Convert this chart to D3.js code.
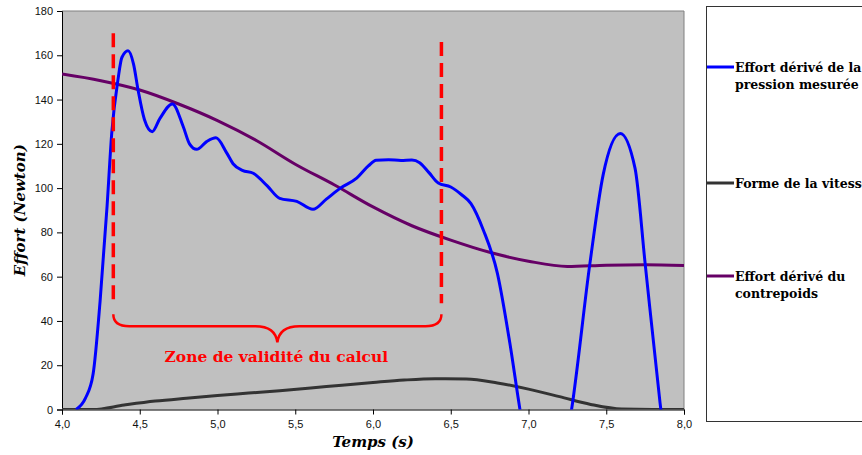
<!DOCTYPE html>
<html>
<head>
<meta charset="utf-8">
<script src="https://cdn.jsdelivr.net/npm/d3@7"></script>
<style>
  body { margin: 0; background: #fff; }
  svg { display: block; }
</style>
</head>
<body>
<div id="chart"></div>
<script>
// series data (time in s, effort in N)
const pressionT = [4.09, 4.15, 4.20, 4.245, 4.29, 4.32, 4.36, 4.385, 4.425, 4.46, 4.49, 4.53, 4.58, 4.63, 4.71, 4.78, 4.82, 4.866, 4.93, 4.99, 5.06, 5.10, 5.16, 5.23, 5.32, 5.40, 5.51, 5.614, 5.70, 5.79, 5.895, 5.97, 6.02, 6.10, 6.18, 6.25, 6.30, 6.36, 6.42, 6.50, 6.57, 6.63, 6.71, 6.80, 6.88, 6.945, 7.02, 7.12, 7.20, 7.277, 7.395, 7.48, 7.59, 7.685, 7.75, 7.846, 7.92];
const pressionV = [0, 5, 16, 49, 92, 125, 149, 159, 162, 156, 144, 131, 125.5, 131.5, 138, 127.7, 120, 117.5, 121, 122.7, 115.8, 111, 108, 106.7, 101, 95.4, 94, 90.4, 95, 100, 104.5, 110, 112.6, 112.8, 112.5, 112.7, 111.5, 107, 102.3, 100.5, 97, 93, 81, 61.5, 30, 0, -30, -45, -30, 0, 66, 106, 124.7, 109, 66, 3, -40];

const vitesseT = [4.0, 4.2, 4.4, 4.6, 4.8, 5.0, 5.2, 5.4, 5.6, 5.8, 6.0, 6.2, 6.4, 6.6, 6.8, 7.0, 7.2, 7.4, 7.6, 7.8, 8.0];
const vitesseV = [0, 0, 2, 3.8, 5.1, 6.3, 7.4, 8.5, 9.7, 11, 12.2, 13.3, 13.9, 13.8, 12, 9.2, 5.8, 2.3, 0.2, 0, 0];

const contrepoidsT = [4.0, 4.25, 4.5, 4.75, 5.0, 5.25, 5.5, 5.75, 6.0, 6.25, 6.5, 6.75, 7.0, 7.25, 7.5, 7.75, 8.0];
const contrepoidsV = [151.5, 148.5, 144.3, 138, 130.5, 121.5, 110.8, 101.5, 91.5, 83, 76.5, 71, 67, 64.6, 65.2, 65.4, 65];

const seriesNames = [["Effort dérivé de la", "pression mesurée"], ["Forme de la vitesse"], ["Effort dérivé du", "contrepoids"]];
const seriesColors = ["#0000ff", "#333333", "#660066"];

const xTicks = [4.0, 4.5, 5.0, 5.5, 6.0, 6.5, 7.0, 7.5, 8.0];
const yTicks = [0, 20, 40, 60, 80, 100, 120, 140, 160, 180];

// annotation: zone de validite
const zoneStart = 4.33, zoneEnd = 6.44, zoneMid = 5.385;
const zoneTopLeft = 170, zoneTopRight = 166;

const width = 862, height = 455;
const plot = { left: 62, right: 684, top: 11, bottom: 409.5 };

const svg = d3.select("#chart").append("svg")
    .attr("width", width)
    .attr("height", height);

const x = d3.scaleLinear().domain([4, 8]).range([plot.left, plot.right]);
const y = d3.scaleLinear().domain([0, 180]).range([plot.bottom, plot.top]);

// plot background
svg.append("rect")
    .attr("x", plot.left).attr("y", plot.top)
    .attr("width", plot.right - plot.left)
    .attr("height", plot.bottom - plot.top)
    .attr("fill", "#c0c0c0");

// top / right border
svg.append("path")
    .attr("d", `M${plot.left},${plot.top}H${plot.right}V${plot.bottom}`)
    .attr("fill", "none")
    .attr("stroke", "#808080")
    .attr("stroke-width", 1);

svg.append("clipPath").attr("id", "clip")
    .append("rect")
    .attr("x", plot.left).attr("y", plot.top - 2)
    .attr("width", plot.right - plot.left)
    .attr("height", plot.bottom - plot.top + 2);

// axes
const xAxis = d3.axisBottom(x).tickValues(xTicks).tickSize(5).tickPadding(6)
    .tickFormat(d => d3.format(".1f")(d).replace(".", ","));
const yAxis = d3.axisLeft(y).tickValues(yTicks).tickSize(5).tickPadding(4);

const gx = svg.append("g")
    .attr("transform", `translate(0,${plot.bottom})`)
    .call(xAxis);
const gy = svg.append("g")
    .attr("transform", `translate(${plot.left},0)`)
    .call(yAxis);

[gx, gy].forEach(g => {
    g.select(".domain").attr("stroke", "#000");
    g.selectAll(".tick line").attr("stroke", "#000");
    g.selectAll("text")
        .attr("fill", "#111")
        .style("font-family", "'Liberation Sans', Arial, sans-serif")
        .style("font-size", "11px");
});

// series
const line = d3.line()
    .x(d => x(d[0]))
    .y(d => y(d[1]))
    .curve(d3.curveMonotoneX);

const series = [
    d3.zip(vitesseT, vitesseV),
    d3.zip(contrepoidsT, contrepoidsV),
    d3.zip(pressionT, pressionV)
];
const seriesOrder = [1, 2, 0];

const lines = svg.append("g").attr("clip-path", "url(#clip)");
series.forEach((data, i) => {
    lines.append("path")
        .datum(data)
        .attr("d", line)
        .attr("fill", "none")
        .attr("stroke", seriesColors[seriesOrder[i]])
        .attr("stroke-width", 3)
        .attr("stroke-linejoin", "round");
});

// red annotation
const red = svg.append("g");
red.append("line")
    .attr("x1", x(zoneStart)).attr("x2", x(zoneStart))
    .attr("y1", y(zoneTopLeft)).attr("y2", y(48))
    .attr("stroke", "#ff0000").attr("stroke-width", 3.5)
    .attr("stroke-dasharray", "14,7");
red.append("line")
    .attr("x1", x(zoneEnd)).attr("x2", x(zoneEnd))
    .attr("y1", y(zoneTopRight)).attr("y2", y(48))
    .attr("stroke", "#ff0000").attr("stroke-width", 3.5)
    .attr("stroke-dasharray", "14,7");

const xs = x(zoneStart), xe = x(zoneEnd), xm = x(zoneMid);
const yb = y(43), yh = y(37.6), yt = y(30.3);
red.append("path")
    .attr("d", `M${xs},${yb}Q${xs},${yh} ${xs + 16},${yh}L${xm - 22},${yh}Q${xm - 2},${yh} ${xm},${yt}` +
        `Q${xm + 2},${yh} ${xm + 22},${yh}L${xe - 16},${yh}Q${xe},${yh} ${xe},${yb}`)
    .attr("fill", "none")
    .attr("stroke", "#ff0000")
    .attr("stroke-width", 2.5);

red.append("text")
    .attr("x", xm - 1)
    .attr("y", y(21.5))
    .attr("text-anchor", "middle")
    .attr("fill", "#ff0000")
    .style("font-family", "'DejaVu Serif', serif")
    .style("font-weight", "bold")
    .style("font-size", "15.5px")
    .text("Zone de validité du calcul");

// axis titles
svg.append("text")
    .attr("x", (plot.left + plot.right) / 2)
    .attr("y", 447)
    .attr("text-anchor", "middle")
    .style("font-family", "'DejaVu Serif', serif")
    .style("font-weight", "bold")
    .style("font-style", "italic")
    .style("font-size", "15px")
    .text("Temps (s)");

svg.append("text")
    .attr("transform", `translate(25,${(plot.top + plot.bottom) / 2}) rotate(-90)`)
    .attr("text-anchor", "middle")
    .style("font-family", "'DejaVu Serif', serif")
    .style("font-weight", "bold")
    .style("font-style", "italic")
    .style("font-size", "15px")
    .text("Effort (Newton)");

// legend
const legend = svg.append("g").attr("id", "legend");
legend.append("rect")
    .attr("x", 706.5).attr("y", 6.5)
    .attr("width", 170).attr("height", 415)
    .attr("fill", "#fff")
    .attr("stroke", "#333")
    .attr("stroke-width", 1);

const legendY = [67, 183, 276];
seriesNames.forEach((names, i) => {
    legend.append("line")
        .attr("x1", 707).attr("x2", 734)
        .attr("y1", legendY[i]).attr("y2", legendY[i])
        .attr("stroke", seriesColors[i])
        .attr("stroke-width", 3);
    const t = legend.append("text")
        .attr("x", 735)
        .attr("y", legendY[i] + 4.5)
        .style("font-family", "'DejaVu Serif', serif")
        .style("font-weight", "bold")
        .style("font-size", "12.5px")
        .attr("fill", "#000");
    names.forEach((n, j) => {
        t.append("tspan").attr("x", 735).attr("dy", j === 0 ? 0 : 17).text(n);
    });
});
</script>
</body>
</html>
